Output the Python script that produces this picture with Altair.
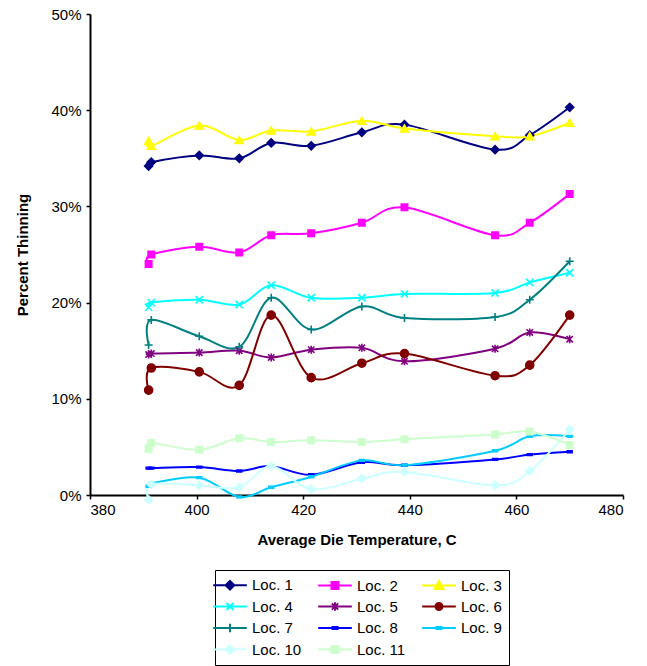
import altair as alt
import pandas as pd

# Average die temperature (C) at each measurement
temps = [391, 391.5, 400.5, 408, 414, 421.5, 431, 439, 456, 462.5, 470]

series_names = [f"Loc. {i}" for i in range(1, 12)]

# Percent thinning per location, one value per temperature
loc1 = [34.2, 34.6, 35.3, 35.0, 36.6, 36.3, 37.7, 38.5, 35.9, 37.4, 40.3]
loc2 = [24.0, 25.0, 25.8, 25.2, 27.0, 27.2, 28.3, 29.9, 27.0, 28.3, 31.3]
loc3 = [36.8, 36.3, 38.4, 36.9, 37.9, 37.8, 38.9, 38.1, 37.3, 37.3, 38.7]
loc4 = [19.5, 20.0, 20.3, 19.8, 21.8, 20.5, 20.5, 20.9, 21.0, 22.1, 23.1]
loc5 = [14.6, 14.7, 14.8, 15.0, 14.3, 15.1, 15.3, 13.9, 15.2, 16.9, 16.2]
loc6 = [10.9, 13.2, 12.8, 11.4, 18.7, 12.2, 13.7, 14.7, 12.4, 13.5, 18.7]
loc7 = [15.6, 18.2, 16.5, 15.4, 20.5, 17.2, 19.6, 18.4, 18.5, 20.3, 24.3]
loc8 = [2.8, 2.8, 2.9, 2.5, 3.0, 2.1, 3.4, 3.1, 3.7, 4.2, 4.5]
loc9 = [0.9, 1.2, 1.8, -0.2, 0.8, 1.9, 3.6, 3.1, 4.6, 6.1, 6.1]
loc10 = [-0.5, 1.1, 1.0, 0.8, 3.0, 0.6, 1.7, 2.4, 1.0, 2.5, 6.8]
loc11 = [4.8, 5.4, 4.7, 5.9, 5.5, 5.7, 5.5, 5.8, 6.3, 6.6, 5.2]

all_values = [loc1, loc2, loc3, loc4, loc5, loc6, loc7, loc8, loc9, loc10, loc11]

colors = ["#000080", "#FF00FF", "#FFFF00", "#00FFFF", "#800080", "#800000",
          "#008080", "#0000FF", "#00CCFF", "#CCFFFF", "#CCFFCC"]

# Marker glyphs drawn on the data points
marker_paths = [
    "diamond",
    "M-0.8,-0.8H0.8V0.8H-0.8Z",
    "triangle-up",
    "M-0.9,-0.9L0.9,0.9M-0.9,0.9L0.9,-0.9",
    "M-0.8,-0.8L0.8,0.8M-0.8,0.8L0.8,-0.8M0,-1V1",
    "circle",
    "M-1,0H1M0,-1V1",
    "M-0.6,-0.22H0.6V0.22H-0.6Z",
    "M-0.6,-0.22H0.6V0.22H-0.6Z",
    "diamond",
    "M-0.8,-0.8H0.8V0.8H-0.8Z",
]

# Legend keys: a short line segment with the marker in its middle
LINE = "M-2.4,0H2.4"
legend_paths = [
    LINE + "M0,-0.62L0.62,0L0,0.62L-0.62,0Z",
    LINE + "M-0.5,-0.5H0.5V0.5H-0.5Z",
    LINE + "M0,-0.65L0.65,0.5H-0.65Z",
    LINE + "M-0.5,-0.5L0.5,0.5M-0.5,0.5L0.5,-0.5",
    LINE + "M-0.45,-0.45L0.45,0.45M-0.45,0.45L0.45,-0.45M0,-0.6V0.6",
    LINE + "M0.5,0A0.5,0.5 0 1 1 -0.5,0A0.5,0.5 0 1 1 0.5,0Z",
    LINE + "M0,-0.6V0.6",
    LINE + "M-0.35,-0.15H0.35V0.15H-0.35Z",
    LINE + "M-0.35,-0.15H0.35V0.15H-0.35Z",
    LINE + "M0,-0.62L0.62,0L0,0.62L-0.62,0Z",
    LINE + "M-0.5,-0.5H0.5V0.5H-0.5Z",
]

rows = []
for name, vals in zip(series_names, all_values):
    for t, v in zip(temps, vals):
        rows.append({"series": name, "temp": t, "thin": v, "key": name})
df = pd.DataFrame(rows)

FONT = "Liberation Sans"

x_enc = alt.X(
    "temp:Q",
    scale=alt.Scale(domain=[380, 480], nice=False, zero=False),
    axis=alt.Axis(
        values=[380, 400, 420, 440, 460, 480],
        title="Average Die Temperature, C",
        grid=False,
        tickSize=4,
        labelPadding=3,
        titlePadding=15,
    ),
)
y_enc = alt.Y(
    "thin:Q",
    scale=alt.Scale(domain=[0, 50], nice=False, zero=False),
    axis=alt.Axis(
        values=[0, 10, 20, 30, 40, 50],
        labelExpr="datum.value + '%'",
        title="Percent Thinning",
        grid=False,
        tickSize=4,
        labelPadding=5,
        titlePadding=20,
    ),
)

color_scale = alt.Scale(domain=series_names, range=colors)

lines = alt.Chart(df).mark_line(
    interpolate="cardinal", strokeWidth=2, clip=False
).encode(
    x=x_enc,
    y=y_enc,
    color=alt.Color("series:N", scale=color_scale, legend=None),
    detail="series:N",
)

points = alt.Chart(df).mark_point(
    filled=True, size=64, strokeWidth=1.6, opacity=1, clip=False
).encode(
    x=x_enc,
    y=y_enc,
    color=alt.Color("series:N", scale=color_scale, legend=None),
    stroke=alt.Stroke("series:N", scale=color_scale, legend=None),
    shape=alt.Shape("series:N",
                    scale=alt.Scale(domain=series_names, range=marker_paths),
                    legend=None),
)

legend_spec = alt.Legend(
    orient="none",
    legendX=125,
    legendY=556,
    direction="horizontal",
    columns=3,
    title=None,
    strokeColor="black",
    fillColor="white",
    padding=7,
    symbolSize=196,
    symbolStrokeWidth=2,
    labelFont=FONT,
    labelFontSize=15,
    labelColor="black",
    labelOffset=14,
    rowPadding=3.5,
    columnPadding=12,
)

legend_keys = alt.Chart(df).transform_filter("false").mark_point(
    filled=True, opacity=1
).encode(
    x=x_enc,
    y=y_enc,
    color=alt.Color("key:N", scale=color_scale, legend=legend_spec),
    stroke=alt.Stroke("key:N", scale=color_scale, legend=legend_spec),
    shape=alt.Shape("key:N",
                    scale=alt.Scale(domain=series_names, range=legend_paths),
                    legend=legend_spec),
)

chart = alt.layer(lines, points, legend_keys).resolve_scale(
    color="independent", stroke="independent", shape="independent"
).properties(
    width=533,
    height=481,
    padding={"left": 15, "top": 7, "right": 5, "bottom": 1},
).configure_view(
    stroke=None
).configure_axis(
    domainColor="black",
    domainWidth=2,
    tickColor="black",
    tickWidth=1.5,
    labelFont=FONT,
    labelFontSize=15,
    labelColor="black",
    titleFont=FONT,
    titleFontSize=15,
    titleFontWeight="bold",
    titleColor="black",
)

chart.save("out.html", embed_options={"renderer": "svg", "actions": False})
